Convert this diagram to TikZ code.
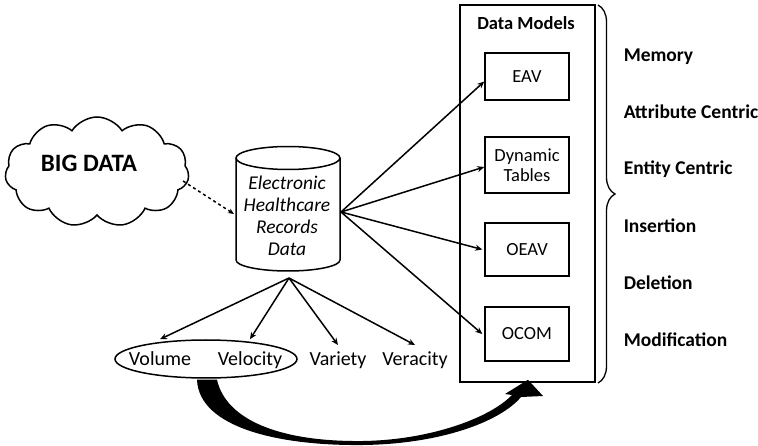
\documentclass[tikz,border=0pt]{standalone}
\usepackage{fontspec}
\setmainfont{Carlito}
\usetikzlibrary{shapes.symbols,shapes.geometric,arrows.meta,decorations.pathreplacing,calc}
\begin{document}
\begin{tikzpicture}[x=1pt,y=-1pt,line width=1.5pt,
  arr/.style={-{Stealth[length=7pt,width=6pt]},line width=1.5pt},
  model/.style={draw,line width=1.5pt,minimum width=84pt,inner sep=0pt,align=center,font=\fontsize{18.5}{20}\selectfont},
  vlabel/.style={inner sep=0pt,text height=12pt,text depth=4pt,font=\fontsize{20}{22}\selectfont},
  prop/.style={anchor=west,inner sep=0pt,font=\bfseries\fontsize{19.5}{21}\selectfont}]
\useasboundingbox (0,0) rectangle (758,446);
\fill[white] (0,0) rectangle (758,446);
% cloud
\node[cloud,draw,cloud puffs=11,cloud puff arc=115,aspect=1.75,minimum width=184pt,minimum height=110pt,inner sep=0pt,line width=1.5pt] (cloud) at (97,172) {};
\node[inner sep=0pt,font=\bfseries\fontsize{25}{27}\selectfont] (bd) at (89,163) {BIG DATA};
% cylinder
\draw[fill=white] (236,158) -- (236,260) arc[start angle=180,end angle=360,x radius=52pt,y radius=11pt] -- (340,158);
\draw (288,158) ellipse [x radius=52pt,y radius=11.5pt];
\node[inner sep=0pt,align=center,font=\itshape\fontsize{19.5}{22}\selectfont] (ehr) at (287,216) {Electronic\\Healthcare\\Records\\Data};
\coordinate (cylL) at (234,214);
\coordinate (cylR) at (341,212);
\coordinate (cylB) at (289,278);
\coordinate (cloudR) at (183,181);
\draw[dashed,line width=1.5pt,-{Stealth[length=6pt,width=5pt]}] (cloudR) -- (cylL);
% data models
\draw[line width=1.8pt] (460,5) rectangle (595,382);
\node[draw=none,minimum width=135pt,minimum height=377pt] (dm) at (527.5,193.5) {};
\node[inner sep=0pt,font=\bfseries\fontsize{18.5}{20}\selectfont] (dmt) at (526,23) {Data Models};
\node[model,minimum height=47pt] (eav) at (527,76.5) {EAV};
\node[model,minimum height=56pt,font=\fontsize{18.5}{20}\selectfont] (dt) at (527,165) {Dynamic\\Tables};
\node[model,minimum height=53pt] (oeav) at (527,249.5) {OEAV};
\node[model,minimum height=54pt] (ocom) at (527,334) {OCOM};
\draw[arr] (cylR) -- ([yshift=-5pt]eav.west);
\draw[arr] (cylR) -- ([yshift=-2pt]dt.west);
\draw[arr] (cylR) -- ([xshift=-2pt]oeav.west);
\draw[arr] (cylR) -- ([xshift=-2pt]ocom.west);
% brace
\draw[line width=1.3pt,decorate,decoration={brace,amplitude=17pt}] (598,5) -- (598,383);
\node[prop] (p1) at (623,57) {Memory};
\node[prop] (p2) at (623,112) {Attribute Centric};
\node[prop] (p3) at (623,169) {Entity Centric};
\node[prop] (p4) at (623,226) {Insertion};
\node[prop] (p5) at (623,283) {Deletion};
\node[prop] (p6) at (623,340) {Modification};
% V's
\node[ellipse,draw,line width=1.5pt,minimum width=182pt,minimum height=38pt] (vv) at (206,359) {};
\node[vlabel] (vol) at (160,362) {Volume};
\node[vlabel] (vel) at (250,362) {Velocity};
\node[vlabel] (var) at (338,362) {Variety};
\node[vlabel] (ver) at (415,362) {Veracity};
\draw[arr] (cylB) -- (vv.north -| vol);
\draw[arr] (cylB) -- (vv.north -| vel);
\draw[arr] (cylB) -- ([yshift=17pt]var.center);
\draw[arr] (cylB) -- ([yshift=17pt]ver.center);
% thick curved arrow
\fill ($(vv.south)+(-9,1)$) .. controls (199,428) and (280,446) .. (363,445)
  .. controls (440,444) and (500,422) .. (521,397)
  -- (543,396) -- ($(dm.south)+(0.5,-3)$) -- (505,394) -- (512,395)
  .. controls (490,418) and (430,440) .. (363,441)
  .. controls (280,442) and (226,420) .. ($(vv.south)+(11,1)$) -- cycle;
\end{tikzpicture}
\end{document}
